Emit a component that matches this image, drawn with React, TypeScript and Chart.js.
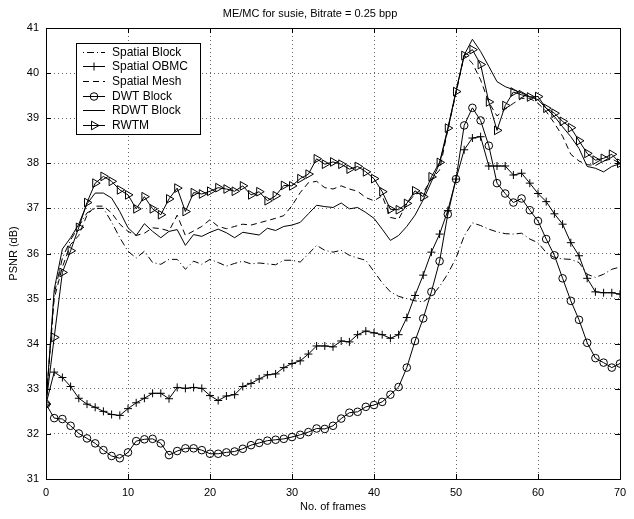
import React, { useEffect, useRef } from 'react';
import { Chart, registerables } from 'chart.js';
import { drawPoint } from 'chart.js/helpers';

Chart.register(...registerables);

const TITLE = 'ME/MC for susie, Bitrate = 0.25 bpp';
const X_LABEL = 'No. of frames';
const Y_LABEL = 'PSNR (dB)';

const frames = [
  0, 1, 2, 3, 4, 5, 6, 7, 8, 9, 10, 11, 12, 13, 14, 15, 16, 17, 18, 19, 20,
  21, 22, 23, 24, 25, 26, 27, 28, 29, 30, 31, 32, 33, 34, 35, 36, 37, 38, 39, 40,
  41, 42, 43, 44, 45, 46, 47, 48, 49, 50, 51, 52, 53, 54, 55, 56, 57, 58, 59, 60,
  61, 62, 63, 64, 65, 66, 67, 68, 69, 70,
];

const xTicks = [0, 10, 20, 30, 40, 50, 60, 70];
const yTicks = [31, 32, 33, 34, 35, 36, 37, 38, 39, 40, 41];

const spatialBlock = [
  32.66, 35.1, 35.9, 36.3, 36.6, 36.9, 37.0, 37.0, 36.7, 36.35, 36.05,
  35.9, 36.05, 35.8, 35.76, 35.87, 35.87, 35.65, 35.83, 35.76, 35.87,
  35.8, 35.72, 35.78, 35.83, 35.77, 35.79, 35.77, 35.75, 35.85, 35.85,
  35.81, 35.99, 36.18, 36.07, 36.03, 36.07, 35.96, 35.9, 35.85, 35.6,
  35.35, 35.15, 35.05, 35.0, 34.95, 34.93, 35.05, 35.27, 35.55, 35.9,
  36.39, 36.68, 36.62, 36.54, 36.48, 36.44, 36.43, 36.45, 36.32, 36.24,
  36.02, 35.91, 35.88, 35.87, 35.8, 35.54, 35.47, 35.54, 35.65, 35.7,
];

const spatialOBMC = [
  32.66, 33.37, 33.25, 33.05, 32.79, 32.66, 32.59, 32.5, 32.43, 32.41, 32.56,
  32.69, 32.79, 32.9, 32.9, 32.78, 33.03, 33.01, 33.03, 33.01, 32.85,
  32.74, 32.84, 32.87, 33.05, 33.12, 33.22, 33.31, 33.33, 33.47, 33.56,
  33.62, 33.77, 33.95, 33.95, 33.93, 34.06, 34.04, 34.2, 34.28, 34.24,
  34.2, 34.12, 34.2, 34.58, 35.07, 35.52, 36.03, 36.43, 36.95, 37.65,
  38.3, 38.56, 38.59, 37.94, 37.94, 37.94, 37.74, 37.78, 37.56, 37.33,
  37.15, 36.88, 36.65, 36.24, 35.95, 35.45, 35.15, 35.13, 35.13, 35.1,
];

const spatialMesh = [
  32.66, 35.0, 35.7, 36.2, 36.4, 36.85, 37.05, 37.05, 36.9, 36.65, 36.49,
  36.4, 36.45, 36.57, 36.55, 36.5, 36.85, 36.4, 36.5, 36.6, 36.75,
  36.6, 36.55, 36.6, 36.65, 36.63, 36.68, 36.73, 36.78, 36.84, 37.06,
  37.35, 37.57, 37.6, 37.46, 37.43, 37.5, 37.43, 37.38, 37.24, 37.17,
  37.28, 36.8, 36.76, 37.1, 37.32, 37.35, 37.65, 37.85, 38.75, 39.55,
  40.4, 40.22, 39.85, 39.35, 39.05, 39.2, 39.33, 39.44, 39.44, 39.33,
  39.15, 38.89, 38.6, 38.2, 38.05, 37.97, 37.95, 38.05, 38.1, 38.0,
];

const dwtBlock = [
  32.66, 32.35, 32.33, 32.18, 32.01, 31.9, 31.79, 31.64, 31.51, 31.46, 31.59,
  31.84, 31.88, 31.89, 31.79, 31.53, 31.62, 31.68, 31.68, 31.64, 31.56,
  31.56, 31.59, 31.61, 31.67, 31.75, 31.8, 31.85, 31.87, 31.89, 31.93,
  31.98, 32.04, 32.12, 32.11, 32.18, 32.34, 32.47, 32.49, 32.6, 32.64,
  32.71, 32.87, 33.04, 33.47, 34.06, 34.56, 35.15, 35.83, 36.87, 37.65,
  38.84, 39.23, 38.95, 38.39, 37.56, 37.33, 37.13, 37.22, 36.96, 36.72,
  36.32, 35.96, 35.45, 34.95, 34.53, 34.02, 33.68, 33.58, 33.47, 33.56,
];

const rdwtBlock = [
  32.66, 35.2, 36.1, 36.35, 36.65, 37.1, 37.34, 37.34, 37.23, 36.93, 36.57,
  36.4, 36.66, 36.49, 36.35, 36.49, 36.53, 36.18, 36.42, 36.38, 36.47,
  36.54, 36.46, 36.35, 36.47, 36.44, 36.41, 36.56, 36.51, 36.6, 36.63,
  36.69, 36.88, 37.07, 37.04, 37.02, 37.12, 36.99, 37.02, 36.91, 36.78,
  36.54, 36.29, 36.4, 36.6, 36.85, 37.19, 37.59, 38.0, 38.74, 39.6,
  40.4, 40.75, 40.48, 40.15, 39.81, 39.7, 39.63, 39.56, 39.48, 39.41,
  39.22, 39.04, 38.81, 38.59, 38.33, 37.93, 37.89, 37.81, 37.93, 37.99,
];

const rwtm = [
  32.66, 34.14, 35.58, 36.06, 36.58, 37.13, 37.56, 37.71, 37.6, 37.41, 37.3,
  36.99, 37.26, 36.99, 36.86, 37.21, 37.45, 36.93, 37.35, 37.32, 37.38,
  37.46, 37.43, 37.38, 37.5, 37.3, 37.37, 37.17, 37.28, 37.51, 37.5,
  37.66, 37.76, 38.1, 37.98, 38.03, 37.98, 37.87, 37.93, 37.81, 37.66,
  37.37, 36.98, 36.97, 37.11, 37.39, 37.26, 37.7, 38.02, 38.78, 39.59,
  40.39, 40.52, 40.19, 39.36, 38.73, 39.28, 39.58, 39.52, 39.47, 39.48,
  39.22, 39.11, 38.93, 38.79, 38.5, 38.22, 38.07, 38.11, 38.2, 38.0,
];

const FONT = "'Liberation Sans', Arial, Helvetica, sans-serif";

function pts(values: number[]) {
  return frames.map((f, i) => ({ x: f, y: values[i] }));
}

const boxPlugin = {
  id: 'matlabBox',
  afterDraw(chart: any) {
    const { ctx, chartArea } = chart;
    const { left, right, top, bottom } = chartArea;
    const xs = chart.scales.x;
    const ys = chart.scales.y;
    ctx.save();
    ctx.setLineDash([]);
    ctx.strokeStyle = '#000';
    ctx.lineWidth = 1;
    ctx.strokeRect(Math.round(left) + 0.5, Math.round(top) + 0.5, Math.round(right - left), Math.round(bottom - top));
    const tl = 5;
    ctx.beginPath();
    xTicks.forEach((t) => {
      const px = Math.round(xs.getPixelForValue(t)) + 0.5;
      ctx.moveTo(px, bottom);
      ctx.lineTo(px, bottom - tl);
      ctx.moveTo(px, top);
      ctx.lineTo(px, top + tl);
    });
    yTicks.forEach((t) => {
      const py = Math.round(ys.getPixelForValue(t)) + 0.5;
      ctx.moveTo(left, py);
      ctx.lineTo(left + tl, py);
      ctx.moveTo(right, py);
      ctx.lineTo(right - tl, py);
    });
    ctx.stroke();

    // legend
    const lx = 76, ly = 43, lw = 124, lh = 91;
    ctx.fillStyle = '#fff';
    ctx.fillRect(lx, ly, lw, lh);
    ctx.strokeRect(lx + 0.5, ly + 0.5, lw, lh);
    ctx.font = `12px ${FONT}`;
    ctx.textBaseline = 'middle';
    ctx.textAlign = 'left';
    chart.data.datasets.forEach((ds: any, i: number) => {
      const y = Math.round(51.5 + i * 14.7) + 0.5;
      ctx.strokeStyle = '#000';
      ctx.lineWidth = 1;
      ctx.setLineDash(ds.borderDash || []);
      ctx.lineDashOffset = ds.legendDashOffset || 0;
      ctx.beginPath();
      ctx.moveTo(83, y);
      ctx.lineTo(105, y);
      ctx.stroke();
      ctx.setLineDash([]);
      ctx.lineDashOffset = 0;
      if (ds.pointRadius > 0) {
        ctx.fillStyle = 'rgba(0,0,0,0)';
        drawPoint(ctx, {
          pointStyle: ds.pointStyle,
          rotation: ds.pointRotation || 0,
          radius: ds.pointRadius,
          borderWidth: 1,
        } as any, 94, y);
      }
      ctx.fillStyle = '#000';
      ctx.fillText(ds.label, 112, y + 0.5);
    });
    ctx.restore();
  },
};

export default function App() {
  const ref = useRef<HTMLCanvasElement | null>(null);

  useEffect(() => {
    document.body.style.margin = '0';
    const canvas = ref.current;
    if (!canvas) return;
    const base = {
      borderColor: '#000',
      borderWidth: 1,
      pointBackgroundColor: 'rgba(0,0,0,0)',
      pointBorderColor: '#000',
      pointBorderWidth: 1,
      tension: 0,
      fill: false,
    };
    const chart = new Chart(canvas, {
      type: 'line',
      data: {
        datasets: [
          { ...base, label: 'Spatial Block', data: pts(spatialBlock), borderDash: [7, 3, 1, 3], legendDashOffset: 10, pointRadius: 0 } as any,
          { ...base, label: 'Spatial OBMC', data: pts(spatialOBMC), pointStyle: 'cross', pointRadius: 4 } as any,
          { ...base, label: 'Spatial Mesh', data: pts(spatialMesh), borderDash: [6, 4], pointRadius: 0 } as any,
          { ...base, label: 'DWT Block', data: pts(dwtBlock), pointStyle: 'circle', pointRadius: 3.8 } as any,
          { ...base, label: 'RDWT Block', data: pts(rdwtBlock), pointRadius: 0 } as any,
          { ...base, label: 'RWTM', data: pts(rwtm), pointStyle: 'triangle', pointRotation: 90, pointRadius: 5 } as any,
        ],
      },
      options: {
        animation: false,
        responsive: false,
        devicePixelRatio: 1,
        events: [],
        layout: { padding: { left: 0, right: 14, top: 0, bottom: 0 } },
        plugins: {
          legend: { display: false },
          tooltip: { enabled: false },
          title: {
            display: true,
            text: TITLE,
            color: '#000',
            font: { family: FONT, size: 11, weight: 'normal' },
            padding: { top: 7, bottom: 7.8 },
          },
        },
        scales: {
          x: {
            type: 'linear',
            min: 0,
            max: 70,
            afterBuildTicks: (s: any) => { s.ticks = xTicks.map((v) => ({ value: v })); },
            afterFit: (s: any) => { s.height = 40; },
            ticks: { color: '#000', font: { family: FONT, size: 11 }, padding: 7, maxRotation: 0 },
            grid: { color: 'rgba(0,0,0,0.6)', lineWidth: 1, drawTicks: false },
            border: { display: false, dash: [1, 3] },
            title: {
              display: true,
              text: X_LABEL,
              color: '#000',
              font: { family: FONT, size: 11 },
              padding: { top: 0, bottom: 5.4 },
            },
          },
          y: {
            type: 'linear',
            min: 31,
            max: 41,
            afterBuildTicks: (s: any) => { s.ticks = yTicks.map((v) => ({ value: v })); },
            afterFit: (s: any) => { s.width = 46; },
            ticks: { color: '#000', font: { family: FONT, size: 11 }, padding: 7 },
            grid: { color: 'rgba(0,0,0,0.6)', lineWidth: 1, drawTicks: false },
            border: { display: false, dash: [1, 3] },
            title: {
              display: true,
              text: Y_LABEL,
              color: '#000',
              font: { family: FONT, size: 11 },
              padding: { top: 7.4, bottom: 0 },
            },
          },
        },
      },
      plugins: [boxPlugin],
    });
    return () => chart.destroy();
  }, []);

  return (
    <div style={{ width: 634, height: 519, background: '#fff' }}>
      <canvas ref={ref} width={634} height={519} style={{ display: 'block' }} />
    </div>
  );
}
